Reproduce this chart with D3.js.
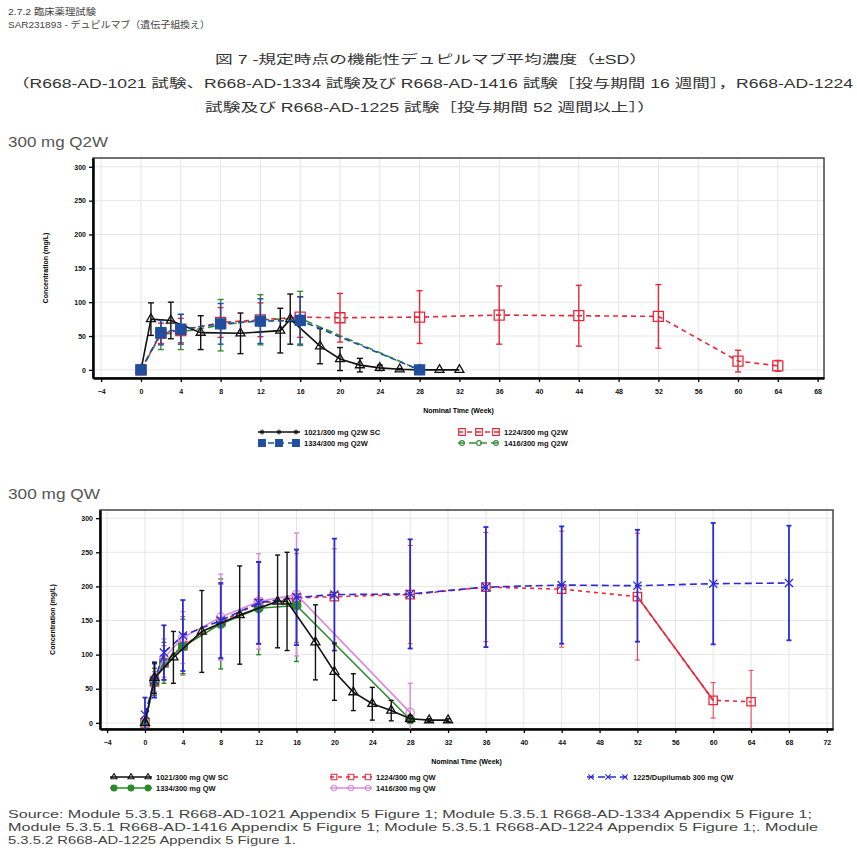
<!DOCTYPE html>
<html lang="ja">
<head>
<meta charset="UTF-8">
<title>Dupilumab concentration</title>
<script src="https://d3js.org/d3.v7.min.js"></script>
<style>
  body {margin: 0; background: #fff;}
  svg text {font-family: "Liberation Sans", Arial, "Noto Sans CJK JP", sans-serif;}
</style>
</head>
<body>
<script>
    const width = 857;
    const height = 850;

    // ---- 300 mg Q2W (week, mean mg/L, SD)
    const q2wWeeks1021 = [0,1,3,6,10,14,15,18,20,22,24,26,28,30,32];
    const q2wMean1021  = [0,75,73,55,54,58,75,35,16,7,3,1,0,0,0];
    const q2wSd1021    = [0,24,27,25,30,33,37,26,17,10,4,1,0,0,0];

    const q2wWeeks1334 = [0,2,4,8,12,16,28];
    const q2wMean1334  = [0,55,60,68,72,73,0];
    const q2wSd1334    = [0,18,22,30,33,35,0];

    const q2wWeeks1416 = [0,2,4,8,12,16,28];
    const q2wMean1416  = [0,52,56,66,74,76,0];
    const q2wSd1416    = [0,22,26,38,37,40,0];

    const q2wWeeks1224 = [0,2,4,8,12,16,20,28,36,44,52,60,64];
    const q2wMean1224  = [0,54,58,70,74,78,77,78,81,80,79,13,6];
    const q2wSd1224    = [0,15,18,22,25,30,36,39,43,45,47,16,8];

    // ---- 300 mg QW
    const qwWeeks1021 = [0,1,3,6,10,14,15,18,20,22,24,26,28,30,32];
    const qwMean1021  = [0,66,96,134,158,178,178,118,75,45,28,18,6,4,4];
    const qwSd1021    = [0,23,38,60,72,68,72,55,42,27,24,15,5,2,2];

    const qwWeeks1334 = [0,1,2,4,8,12,16,28];
    const qwMean1334  = [0,60,88,112,145,168,172,5];
    const qwSd1334    = [0,20,30,40,66,68,82,5];

    const qwWeeks1416 = [0,1,2,4,8,12,16,28];
    const qwMean1416  = [0,65,95,125,155,178,188,15];
    const qwSd1416    = [0,22,28,38,63,70,90,43];

    const qwWeeks1224 = [0,1,2,4,8,12,16,20,28,36,44,52,60,64];
    const qwMean1224  = [0,60,88,113,148,175,183,185,188,199,196,185,33,31];
    const qwSd1224    = [0,15,25,43,55,60,65,70,72,80,85,93,26,46];

    const qwWeeks1225 = [0,1,2,4,8,12,16,20,28,36,44,52,60,68];
    const qwMean1225  = [12,62,103,128,150,176,184,188,189,199,202,201,204,205];
    const qwSd1225    = [25,25,40,52,55,60,70,82,80,88,86,82,89,84];

    // ticks
    const yTicks = [0,50,100,150,200,250,300];
    const xTicksQ2W = d3.range(-4, 69, 4);
    const xTicksQW  = d3.range(-4, 73, 4);

    const headerLines = ["2.7.2 臨床薬理試験", "SAR231893 - デュピルマブ（遺伝子組換え）"];
    const titleLines = [
        "図 7 -規定時点の機能性デュピルマブ平均濃度（±SD）",
        "（R668-AD-1021 試験、R668-AD-1334 試験及び R668-AD-1416 試験［投与期間 16 週間］，R668-AD-1224",
        "試験及び R668-AD-1225 試験［投与期間 52 週間以上］）"
    ];
    const sourceLines = [
        "Source:  Module 5.3.5.1 R668-AD-1021 Appendix 5 Figure 1; Module 5.3.5.1 R668-AD-1334 Appendix 5 Figure 1;",
        "Module 5.3.5.1 R668-AD-1416 Appendix 5 Figure 1; Module 5.3.5.1 R668-AD-1224 Appendix 5 Figure 1;. Module",
        "5.3.5.2 R668-AD-1225 Appendix 5 Figure 1."
    ];

    function series(name, weeks, mean, sd, style) {
        return Object.assign({name: name, points: weeks.map((w, i) => ({w: w, m: mean[i], sd: sd[i]}))}, style);
    }

    const symTimes = d3.symbolTimes || d3.symbolCross;
    const symStar = d3.symbolAsterisk || d3.symbolStar;

    const q2wSeries = [
        series("1416/300 mg Q2W", q2wWeeks1416, q2wMean1416, q2wSd1416, {color: "#3a8a3a", dash: "7,4", sym: d3.symbolCircle, size: 40, fill: "none"}),
        series("1224/300 mg Q2W", q2wWeeks1224, q2wMean1224, q2wSd1224, {color: "#e8283a", dash: "5,4", sym: d3.symbolSquare, size: 100, fill: "none"}),
        series("1021/300 mg Q2W SC", q2wWeeks1021, q2wMean1021, q2wSd1021, {color: "#111", dash: null, sym: d3.symbolTriangle, size: 35, fill: "none", legendSym: symStar}),
        series("1334/300 mg Q2W", q2wWeeks1334, q2wMean1334, q2wSd1334, {color: "#1f4f9e", dash: "6,4", sym: d3.symbolSquare, size: 100, fill: "#1f4f9e"})
    ];
    const q2wLegend = [
        {s: q2wSeries[2], col: 0, row: 0},
        {s: q2wSeries[1], col: 1, row: 0},
        {s: q2wSeries[3], col: 0, row: 1},
        {s: q2wSeries[0], col: 1, row: 1}
    ];

    const qwSeries = [
        series("1224/300 mg QW", qwWeeks1224, qwMean1224, qwSd1224, {color: "#e8283a", dash: "4,4", sym: d3.symbolSquare, size: 70, fill: "none", solidSpan: [52, 60], barWidth: 0.9}),
        series("1334/300 mg QW", qwWeeks1334, qwMean1334, qwSd1334, {color: "#2a8a2a", dash: null, sym: d3.symbolCircle, size: 60, fill: "#2a8a2a"}),
        series("1416/300 mg QW", qwWeeks1416, qwMean1416, qwSd1416, {color: "#d98ad9", dash: null, sym: d3.symbolCircle, size: 55, fill: "none"}),
        series("1225/Dupilumab 300 mg QW", qwWeeks1225, qwMean1225, qwSd1225, {color: "#2a2ad6", dash: "7,4", sym: symTimes, size: 45, fill: "none", barWidth: 1.8}),
        series("1021/300 mg QW SC", qwWeeks1021, qwMean1021, qwSd1021, {color: "#111", dash: null, sym: d3.symbolTriangle, size: 35, fill: "none"})
    ];
    const qwLegend = [
        {s: qwSeries[4], col: 0, row: 0},
        {s: qwSeries[0], col: 1, row: 0},
        {s: qwSeries[3], col: 2, row: 0},
        {s: qwSeries[1], col: 0, row: 1},
        {s: qwSeries[2], col: 1, row: 1}
    ];

    const svg = d3.select("body").append("svg")
            .attr("width", width).attr("height", height);

    // header
    svg.selectAll("text.hdr").data(headerLines).join("text").attr("class", "hdr")
            .attr("x", 8).attr("y", (d, i) => 15 + i * 13)
            .attr("textLength", (d, i) => [88, 202][i]).attr("lengthAdjust", "spacingAndGlyphs")
            .style("font-size", "9.5px").style("fill", "#444").text(d => d);

    svg.selectAll("text.ttl").data(titleLines).join("text").attr("class", "ttl")
            .attr("x", (d, i) => [215, 12, 205][i]).attr("y", (d, i) => 64 + i * 24)
            .attr("textLength", (d, i) => [432, 841, 450][i]).attr("lengthAdjust", "spacingAndGlyphs")
            .style("font-size", "12px").style("fill", "#333").text(d => d);

    svg.selectAll("text.src").data(sourceLines).join("text").attr("class", "src")
            .attr("x", 8).attr("y", (d, i) => 818 + i * 13)
            .attr("textLength", (d, i) => [804, 810, 288][i]).attr("lengthAdjust", "spacingAndGlyphs")
            .style("font-size", "10.5px").style("fill", "#444").text(d => d);

    drawPanel({
        title: "300 mg Q2W", titleY: 147, titleLen: 100,
        left: 93, right: 824, top: 158, bottom: 378,
        x0: 141, xPerWeek: 9.95, yDomain: [-12, 313],
        xTicks: xTicksQ2W, series: q2wSeries, cap: 6,
        legend: q2wLegend, legendX: [258, 458], legendY: 432, legendDy: 11
    });

    drawPanel({
        title: "300 mg QW", titleY: 499, titleLen: 92,
        left: 100, right: 833, top: 510, bottom: 729,
        x0: 145, xPerWeek: 9.47, yDomain: [-9, 312],
        xTicks: xTicksQW, series: qwSeries, cap: 5,
        legend: qwLegend, legendX: [110, 330, 587], legendY: 777, legendDy: 11
    });

    function drawPanel(p) {
        const g = svg.append("g");
        const x = d3.scaleLinear()
                .domain([(p.left - p.x0) / p.xPerWeek, (p.right - p.x0) / p.xPerWeek])
                .range([p.left, p.right]);
        const y = d3.scaleLinear().domain(p.yDomain).range([p.bottom, p.top]);

        g.append("text").attr("x", 8).attr("y", p.titleY)
                .attr("textLength", p.titleLen).attr("lengthAdjust", "spacingAndGlyphs")
                .style("font-size", "14px").style("fill", "#555").text(p.title);

        // grid
        g.selectAll("line.vg").data(p.xTicks).join("line").attr("class", "vg")
                .attr("x1", d => x(d)).attr("x2", d => x(d))
                .attr("y1", p.top).attr("y2", p.bottom)
                .style("stroke", "#e6e6e6").style("stroke-width", 1);
        g.selectAll("line.hg").data(yTicks).join("line").attr("class", "hg")
                .attr("x1", p.left).attr("x2", p.right)
                .attr("y1", d => y(d)).attr("y2", d => y(d))
                .style("stroke", "#e6e6e6").style("stroke-width", 1);

        // frame
        g.append("rect").attr("x", p.left).attr("y", p.top)
                .attr("width", p.right - p.left).attr("height", p.bottom - p.top)
                .style("fill", "none").style("stroke", "#444").style("stroke-width", 1.5);

        // axes
        const xAxis = g.append("g").attr("transform", `translate(0,${p.bottom})`)
                .call(d3.axisBottom(x).tickValues(p.xTicks).tickSize(4).tickSizeOuter(0));
        const yAxis = g.append("g").attr("transform", `translate(${p.left},0)`)
                .call(d3.axisLeft(y).tickValues(yTicks).tickSize(4).tickSizeOuter(0));
        [xAxis, yAxis].forEach(a => {
            a.select(".domain").style("stroke", "#000").style("stroke-width", 2.5);
            a.selectAll(".tick line").style("stroke", "#000").style("stroke-width", 1.3);
            a.selectAll(".tick text").style("font-size", "7px").style("font-weight", "bold")
                    .style("fill", "#111").style("font-family", "Liberation Sans, Arial, sans-serif");
        });
        xAxis.selectAll(".tick text").attr("dy", "1.3em");

        g.append("text").attr("x", (p.left + p.right) / 2).attr("y", p.bottom + 35)
                .attr("text-anchor", "middle")
                .style("font-size", "7px").style("font-weight", "bold").text("Nominal Time (Week)");
        g.append("text")
                .attr("transform", `translate(${p.left - 45},${(p.top + p.bottom) / 2}) rotate(-90)`)
                .attr("text-anchor", "middle")
                .style("font-size", "7px").style("font-weight", "bold").text("Concentration (mg/L)");

        const clipId = "clip" + p.top;
        svg.append("clipPath").attr("id", clipId).append("rect")
                .attr("x", p.left).attr("y", p.top)
                .attr("width", p.right - p.left).attr("height", p.bottom - p.top);
        const plot = g.append("g").attr("clip-path", `url(#${clipId})`);

        const line = d3.line().x(d => x(d.w)).y(d => y(d.m));

        p.series.forEach(s => {
            const sg = plot.append("g");
            // error bars
            const eb = sg.selectAll("g.eb").data(s.points.filter(d => d.sd > 0)).join("g");
            eb.append("line")
                    .attr("x1", d => x(d.w)).attr("x2", d => x(d.w))
                    .attr("y1", d => y(d.m - d.sd)).attr("y2", d => y(d.m + d.sd));
            eb.append("line")
                    .attr("x1", d => x(d.w) - p.cap / 2).attr("x2", d => x(d.w) + p.cap / 2)
                    .attr("y1", d => y(d.m + d.sd)).attr("y2", d => y(d.m + d.sd));
            eb.append("line")
                    .attr("x1", d => x(d.w) - p.cap / 2).attr("x2", d => x(d.w) + p.cap / 2)
                    .attr("y1", d => y(d.m - d.sd)).attr("y2", d => y(d.m - d.sd));
            eb.selectAll("line").style("stroke", s.color).style("stroke-width", s.barWidth || 1.4);

            sg.append("path").datum(s.points).attr("d", line)
                    .style("fill", "none").style("stroke", s.color).style("stroke-width", 1.6)
                    .style("stroke-dasharray", s.dash);
            if (s.solidSpan) {
                sg.append("path")
                        .datum(s.points.filter(d => d.w >= s.solidSpan[0] && d.w <= s.solidSpan[1]))
                        .attr("d", line)
                        .style("fill", "none").style("stroke", s.color).style("stroke-width", 1.6);
            }

            sg.selectAll("path.mk").data(s.points).join("path").attr("class", "mk")
                    .attr("transform", d => `translate(${x(d.w)},${y(d.m)})`)
                    .attr("d", d3.symbol().type(s.sym).size(s.size))
                    .style("fill", s.fill).style("stroke", s.color).style("stroke-width", 1.3);
        });

        // legend
        const lg = g.append("g");
        p.legend.forEach(item => {
            const lx = p.legendX[item.col];
            const ly = p.legendY + item.row * p.legendDy;
            const s = item.s;
            lg.append("line").attr("x1", lx).attr("x2", lx + 42).attr("y1", ly).attr("y2", ly)
                    .style("stroke", s.color).style("stroke-width", 1.6).style("stroke-dasharray", s.dash);
            lg.selectAll(null).data([4, 21, 38]).join("path")
                    .attr("transform", d => `translate(${lx + d},${ly})`)
                    .attr("d", d3.symbol().type(s.legendSym || s.sym).size(s.size * 0.45))
                    .style("fill", s.fill).style("stroke", s.color).style("stroke-width", 1.1);
            lg.append("text").attr("x", lx + 46).attr("y", ly + 3)
                    .style("font-size", "7.5px").style("font-weight", "bold").style("fill", "#111")
                    .text(s.name);
        });
    }
</script>
</body>
</html>
